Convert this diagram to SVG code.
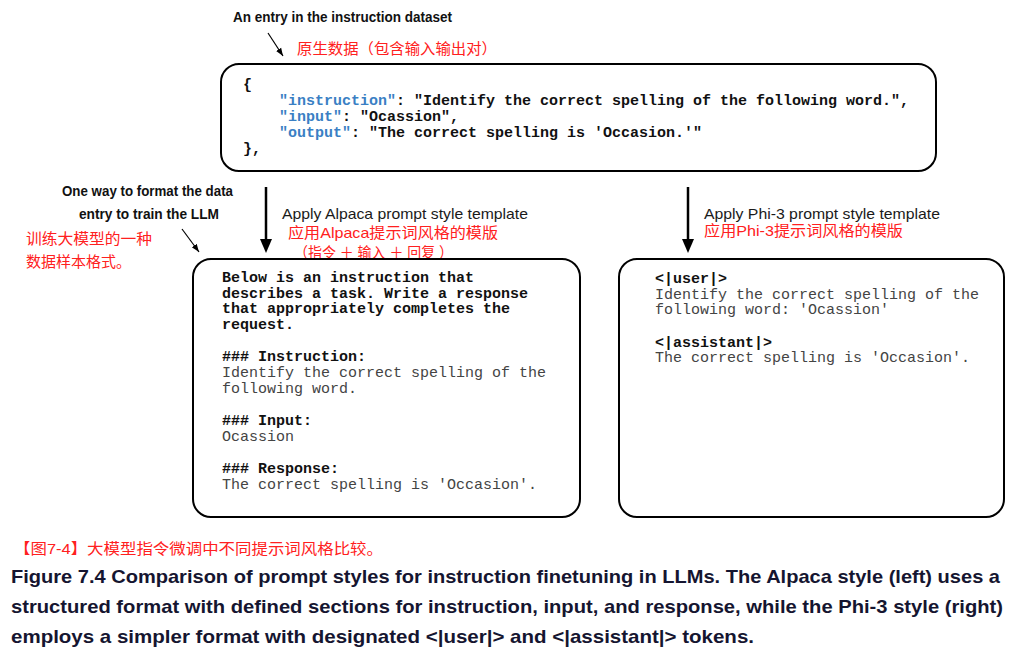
<svg xmlns="http://www.w3.org/2000/svg" width="1021" height="656" viewBox="0 0 1021 656">
<defs>
<marker id="smallHead" markerWidth="8" markerHeight="8" refX="8" refY="4" orient="auto" markerUnits="userSpaceOnUse" viewBox="0 0 8 8">
<path d="M0,1 L8,4 L0,7 Z" fill="#000"/>
</marker>
<style>
.box{fill:#fff;stroke:#000;stroke-width:2}
.lbl{font-family:"Liberation Sans",Arial,sans-serif;font-weight:bold;font-size:14px;fill:#111}
.sans{font-family:"Liberation Sans",Arial,sans-serif;font-size:15px;fill:#1a1a1a}
.red{font-family:"Liberation Sans","Noto Sans CJK SC",sans-serif;font-size:15px;fill:#ff2020}
.mono{font-family:"Liberation Mono","Courier New",monospace;font-size:15px;fill:#444}
.monob{font-family:"Liberation Mono","Courier New",monospace;font-size:15px;font-weight:bold;fill:#111}
.key{fill:#3a7fc4}
.cap{font-family:"Liberation Sans",Arial,sans-serif;font-weight:bold;font-size:19px;fill:#151530}
.thick{stroke:#000;stroke-width:2.5;fill:none}
.thin{stroke:#000;stroke-width:1.2;fill:none}
.head{fill:#000}
</style>
</defs>

<g id="connectors">
<line class="thin" x1="268" y1="33" x2="283" y2="56" marker-end="url(#smallHead)"/>
<line class="thin" x1="182" y1="229" x2="199" y2="252" marker-end="url(#smallHead)"/>
<line class="thick" x1="266" y1="187" x2="266" y2="242"/>
<path class="head" d="M260,239 L272,239 L266,253 Z"/>
<line class="thick" x1="688" y1="187" x2="688" y2="242"/>
<path class="head" d="M682,239 L694,239 L688,253 Z"/>
</g>

<g id="labels">
<text class="lbl" x="233" y="22" textLength="219" lengthAdjust="spacingAndGlyphs">An entry in the instruction dataset</text>
<text class="red" x="297" y="54" textLength="200" lengthAdjust="spacingAndGlyphs">原生数据（包含输入输出对）</text>
<text class="lbl" x="62" y="196" textLength="171" lengthAdjust="spacingAndGlyphs">One way to format the data</text>
<text class="lbl" x="79" y="219" textLength="140" lengthAdjust="spacingAndGlyphs">entry to train the LLM</text>
<text class="red" x="26" y="244" textLength="126" lengthAdjust="spacingAndGlyphs">训练大模型的一种</text>
<text class="red" x="26" y="267">数据样本格式。</text>
<text class="sans" x="282" y="219" textLength="246" lengthAdjust="spacingAndGlyphs">Apply Alpaca prompt style template</text>
<text class="red" x="288" y="238" textLength="210" lengthAdjust="spacingAndGlyphs">应用Alpaca提示词风格的模版</text>
<text class="red" x="294" y="258" textLength="159" lengthAdjust="spacingAndGlyphs">（指令 ＋ 输入 ＋ 回复 ）</text>
<text class="sans" x="704" y="219" textLength="236" lengthAdjust="spacingAndGlyphs">Apply Phi-3 prompt style template</text>
<text class="red" x="704" y="236" textLength="199" lengthAdjust="spacingAndGlyphs">应用Phi-3提示词风格的模版</text>
</g>

<g id="node-entry">
<rect class="box" x="221" y="64" width="715" height="107" rx="18"/>
<text class="monob" x="243" y="89">{</text>
<text class="monob" x="279" y="105"><tspan class="key">"instruction"</tspan>: "Identify the correct spelling of the following word.",</text>
<text class="monob" x="279" y="121"><tspan class="key">"input"</tspan>: "Ocassion",</text>
<text class="monob" x="279" y="137"><tspan class="key">"output"</tspan>: "The correct spelling is 'Occasion.'"</text>
<text class="monob" x="243" y="153">},</text>
</g>

<g id="node-alpaca">
<rect class="box" x="193" y="259" width="387" height="258" rx="18"/>
<text class="monob" x="222" y="282">Below is an instruction that</text>
<text class="monob" x="222" y="298">describes a task. Write a response</text>
<text class="monob" x="222" y="313">that appropriately completes the</text>
<text class="monob" x="222" y="329">request.</text>
<text class="monob" x="222" y="361">### Instruction:</text>
<text class="mono" x="222" y="377">Identify the correct spelling of the</text>
<text class="mono" x="222" y="393">following word.</text>
<text class="monob" x="222" y="425">### Input:</text>
<text class="mono" x="222" y="441">Ocassion</text>
<text class="monob" x="222" y="473">### Response:</text>
<text class="mono" x="222" y="489">The correct spelling is 'Occasion'.</text>
</g>

<g id="node-phi3">
<rect class="box" x="619" y="259" width="385" height="258" rx="18"/>
<text class="monob" x="655" y="283">&lt;|user|&gt;</text>
<text class="mono" x="655" y="299">Identify the correct spelling of the</text>
<text class="mono" x="655" y="314">following word: 'Ocassion'</text>
<text class="monob" x="655" y="347">&lt;|assistant|&gt;</text>
<text class="mono" x="655" y="362">The correct spelling is 'Occasion'.</text>
</g>

<g id="caption">
<text class="red" x="14" y="554" textLength="369" lengthAdjust="spacingAndGlyphs">【图7-4】大模型指令微调中不同提示词风格比较。</text>
<text class="cap" x="11" y="583" textLength="989" lengthAdjust="spacingAndGlyphs">Figure 7.4 Comparison of prompt styles for instruction finetuning in LLMs. The Alpaca style (left) uses a</text>
<text class="cap" x="11" y="613" textLength="992" lengthAdjust="spacingAndGlyphs">structured format with defined sections for instruction, input, and response, while the Phi-3 style (right)</text>
<text class="cap" x="11" y="643" textLength="743" lengthAdjust="spacingAndGlyphs">employs a simpler format with designated &lt;|user|&gt; and &lt;|assistant|&gt; tokens.</text>
</g>
</svg>
